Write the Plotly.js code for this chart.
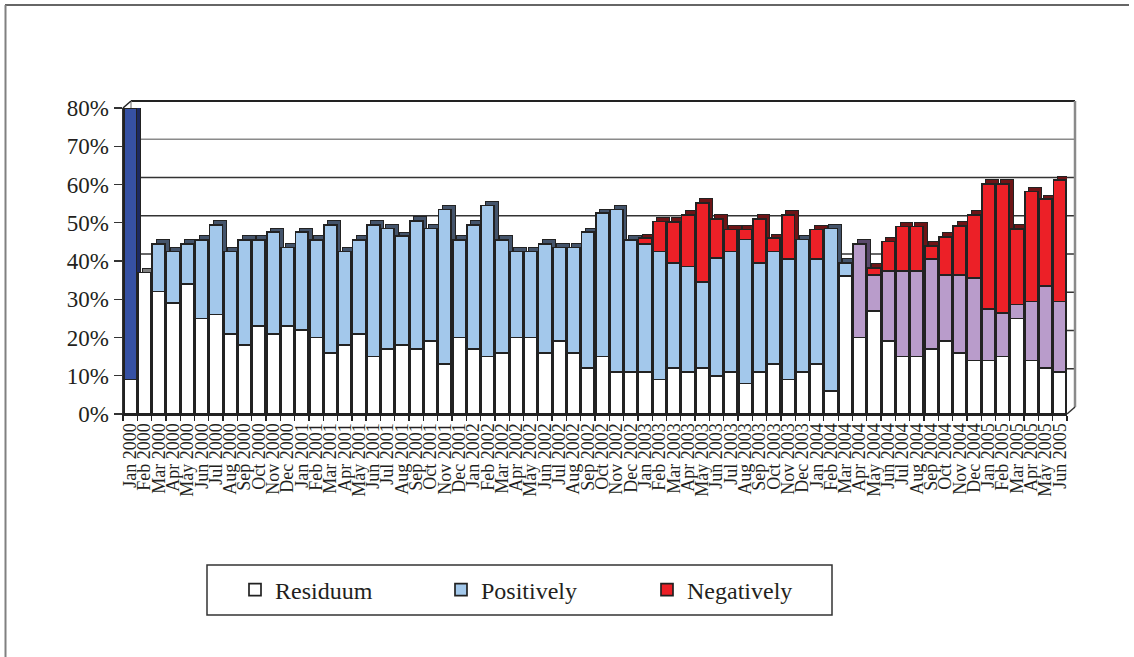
<!DOCTYPE html>
<html>
<head>
<meta charset="utf-8">
<script src="https://cdn.plot.ly/plotly-3.0.1.min.js"></script>
<style>html,body{margin:0;padding:0;background:#fff;}#chart{width:1134px;height:657px;}</style>
</head>
<body>
<div id="chart"></div>
<script>
// ---- data ----
const months = [
  "Jan 2000","Feb 2000","Mar 2000","Apr 2000","May 2000","Jun 2000","Jul 2000","Aug 2000","Sep 2000","Oct 2000","Nov 2000","Dec 2000",
  "Jan 2001","Feb 2001","Mar 2001","Apr 2001","May 2001","Jun 2001","Jul 2001","Aug 2001","Sep 2001","Oct 2001","Nov 2001","Dec 2001",
  "Jan 2002","Feb 2002","Mar 2002","Apr 2002","May 2002","Jun 2002","Jul 2002","Aug 2002","Sep 2002","Oct 2002","Nov 2002","Dec 2002",
  "Jan 2003","Feb 2003","Mar 2003","Apr 2003","May 2003","Jun 2003","Jul 2003","Aug 2003","Sep 2003","Oct 2003","Nov 2003","Dec 2003",
  "Jan 2004","Feb 2004","Mar 2004","Apr 2004","May 2004","Jun 2004","Jul 2004","Aug 2004","Sep 2004","Oct 2004","Nov 2004","Dec 2004",
  "Jan 2005","Feb 2005","Mar 2005","Apr 2005","May 2005","Jun 2005"
];
const residuum = [
  9,37,32,29,34,25,26,21,18,23,21,23,
  22,20,16,18,21,15,17,18,17,19,13,20,
  17,15,16,20,20,16,19,16,12,15,11,11,
  11,9,12,11,12,10,11,8,11,13,9,11,
  13,6,36,20,27,19,15,15,17,19,16,14,
  14,15,25,14,12,11
];
const positively = [
  71,0,12.5,13.5,10.5,20.5,23.5,21.5,27.5,22.5,26.5,20.5,
  25.5,25.5,33.5,24.5,24.5,34.5,31.5,28.5,33.5,29.5,40.5,25.5,
  32.5,39.5,29.5,22.5,22.5,28.5,24.5,27.5,35.5,37.5,42.5,34.5,
  33.5,33.5,27.5,27.6,22.5,30.8,31.5,37.6,28.5,29.5,31.5,34.6,
  27.5,42.5,3.5,24.5,9.4,18.3,22.3,22.3,23.5,17.4,20.4,21.5,
  13.4,11.4,3.6,15.4,21.5,18.4
];
const negatively = [
  0,0,0,0,0,0,0,0,0,0,0,0,
  0,0,0,0,0,0,0,0,0,0,0,0,
  0,0,0,0,0,0,0,0,0,0,0,0,
  1.5,7.8,10.7,13.5,20.7,10.2,5.7,2.6,11.5,3.5,11.6,0,
  7.7,0,0,0,1.8,7.8,11.7,11.7,3.5,9.9,12.8,16.6,
  32.8,33.8,19.8,28.8,22.7,31.7
];
const yTicks = [0,10,20,30,40,50,60,70,80];
const yTickText = ["0%","10%","20%","30%","40%","50%","60%","70%","80%"];
// colour phases of the "Positively" series
const firstMonthIdx = 0;                          // Jan 2000 drawn dark blue
const purpleFromIdx = months.indexOf("Apr 2004"); // purple from Apr 2004

// ---- styling ----
const FONT = "'Liberation Serif', 'Times New Roman', Times, serif";
const C = {
  white: "#ffffff", whiteSide: "#7f7f7f",
  blue: "#a3c8eb", blueSide: "#44546b",
  dark: "#3651a3", darkSide: "#1d2a60",
  purple: "#b99ccb", purpleSide: "#5a486b",
  red: "#ec2027", redSide: "#6e1416",
  edge: "#222222"
};
const W = 944, H = 306, ML = 123, MT = 108;
const DXpx = 4, DYpx = 4;         // bar depth
const WDX = 8, WDY = 7;           // wall depth
const nCat = months.length;
const catPx = W / nCat;
const valPx = H / 80;
const dxCat = DXpx / catPx, dyVal = DYpx / valPx;
const dxp = WDX / W, dyp = WDY / H;
const X = px => (px - ML) / W;
const Y = py => (MT + H - py) / H;

const posMain = positively.map((v, i) => i === firstMonthIdx ? null : v);
const posFirst = positively.map((v, i) => i === firstMonthIdx ? v : null);
const posColor = months.map((m, i) => i >= purpleFromIdx ? C.purple : C.blue);
const posSide = months.map((m, i) => i >= purpleFromIdx ? C.purpleSide : C.blueSide);

function barTrace(name, vals, color, lineW, axes, show) {
  return {
    type: "bar", name: name, x: months, y: vals,
    xaxis: axes[0], yaxis: axes[1],
    marker: {color: color, line: {color: C.edge, width: lineW}},
    showlegend: show, hoverinfo: show ? "x+y+name" : "skip"
  };
}
const back = ["x", "y"], front = ["x2", "y2"];
const traces = [
  // depth (side / top faces)
  barTrace("r-side", residuum, C.whiteSide, 1, back, false),
  barTrace("p-side", posMain, posSide, 1, back, false),
  barTrace("p1-side", posFirst, C.darkSide, 1, back, false),
  barTrace("n-side", negatively, C.redSide, 1, back, false),
  // front faces
  barTrace("Residuum", residuum, C.white, 1.7, front, true),
  barTrace("Positively", posMain, posColor, 1.7, front, true),
  barTrace("Positively ", posFirst, C.dark, 1.7, front, false),
  barTrace("Negatively", negatively, C.red, 1.7, front, true)
];

// back-wall gridlines and frame
const shapes = [];
yTicks.forEach(v => {
  if (v === 0) return;
  shapes.push({type: "line", xref: "paper", yref: "paper", layer: "below",
    x0: dxp, x1: 1 + dxp, y0: v / 80 + dyp, y1: v / 80 + dyp,
    line: {color: v === 80 ? "#222" : (v === 70 ? "#8a8a8a" : "#333"), width: v === 80 ? 2 : 1.3}});
});
const L = (x0, y0, x1, y1, col, w, layer) => shapes.push({type: "line", xref: "paper", yref: "paper",
  layer: layer || "below", x0, y0, x1, y1, line: {color: col, width: w}});
L(dxp, dyp, dxp, 1 + dyp, "#9a9a9a", 1.5);          // left wall back edge
L(0, 1, dxp, 1 + dyp, "#222", 1.5);                 // top-left diagonal
L(1 + dxp, dyp, 1 + dxp, 1 + dyp, "#8a8a8a", 2.5, "above"); // right wall
L(1, 0, 1 + dxp, dyp, "#333", 1.5, "above");          // floor right diagonal
// figure frame
L(X(5), Y(5), X(1129), Y(5), "#333", 1.5, "above");
L(X(5.5), Y(5), X(5.5), Y(657), "#808080", 2, "above");
// legend box
shapes.push({type: "rect", xref: "paper", yref: "paper", layer: "above",
  x0: X(207), x1: X(832), y0: Y(615), y1: Y(565), line: {color: "#333", width: 1.5}});

const layout = {
  width: 1134, height: 657,
  margin: {l: ML, r: 1134 - ML - W, t: MT, b: 657 - MT - H, pad: 0},
  paper_bgcolor: "#fff", plot_bgcolor: "rgba(0,0,0,0)",
  barmode: "stack", bargap: 0.1,
  font: {family: FONT, color: "#231f20"},
  xaxis: {type: "category", range: [-0.5 - dxCat, nCat - 0.5 - dxCat], visible: false, fixedrange: true},
  yaxis: {range: [-dyVal, 80 - dyVal], visible: false, fixedrange: true},
  xaxis2: {type: "category", overlaying: "x", anchor: "y2", side: "bottom",
    range: [-0.5, nCat - 0.5], tickmode: "linear", tick0: 0, dtick: 1,
    tickangle: -90, tickfont: {family: FONT, size: 18, color: "#231f20"},
    ticks: "outside", tickson: "boundaries", ticklen: 5, tickcolor: "#222", tickwidth: 1.3,
    showline: true, linecolor: "#222", linewidth: 2, showgrid: false, automargin: false},
  yaxis2: {overlaying: "y", anchor: "x2", side: "left", range: [0, 80],
    tickmode: "array", tickvals: yTicks, ticktext: yTickText,
    tickfont: {family: FONT, size: 23, color: "#231f20"},
    ticks: "outside", ticklen: 8, tickcolor: "#333", tickwidth: 1.3,
    showline: true, linecolor: "#333", linewidth: 1.5, showgrid: false, zeroline: false, automargin: false},
  legend: {orientation: "h", x: X(235), xanchor: "left", y: Y(590), yanchor: "middle",
    font: {family: FONT, size: 24, color: "#231f20"}, bgcolor: "rgba(0,0,0,0)", borderwidth: 0,
    entrywidth: 161, entrywidthmode: "pixels", traceorder: "normal"},
  shapes: shapes,
  showlegend: true
};
Plotly.newPlot("chart", traces, layout, {displayModeBar: false, staticPlot: true});
</script>
</body>
</html>
